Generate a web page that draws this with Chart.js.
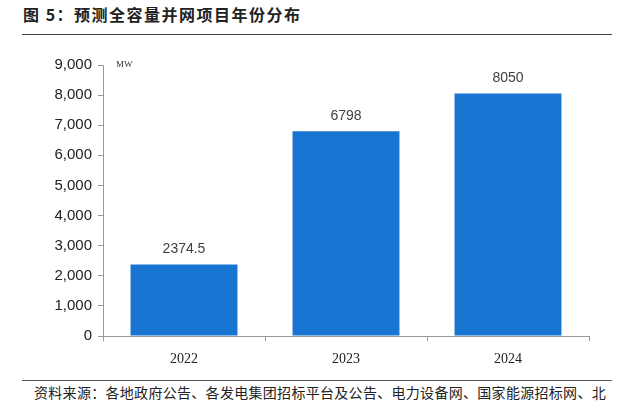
<!DOCTYPE html>
<html>
<head>
<meta charset="utf-8">
<script src="https://cdn.jsdelivr.net/npm/chart.js@4/dist/chart.umd.min.js"></script>
<style>
  body { margin: 0; background: #fff; width: 635px; height: 409px; overflow: hidden; position: relative; font-family: "Noto Sans CJK SC", sans-serif; }
  #title { position: absolute; left: 23px; top: 2px; font-size: 16px; letter-spacing: 1.5px; font-weight: bold; color: #222; white-space: nowrap; }
  #topline { position: absolute; left: 22px; top: 34px; width: 590px; height: 0; border-top: 1.5px solid #444; }
  #botline { position: absolute; left: 22px; top: 380px; width: 590px; height: 0; border-top: 1px solid #555; }
  #source { position: absolute; left: 34px; top: 382px; font-size: 14px; letter-spacing: 0.3px; color: #222; white-space: nowrap; }
  #wrap { position: absolute; left: 0; top: 40px; width: 635px; height: 340px; }
</style>
</head>
<body>
<div id="title">图 5：预测全容量并网项目年份分布</div>
<div id="topline"></div>
<div id="wrap"><canvas id="myChart"></canvas></div>
<div id="botline"></div>
<div id="source">资料来源：各地政府公告、各发电集团招标平台及公告、电力设备网、国家能源招标网、北</div>
<script>
const years = ['2022', '2023', '2024'];
const capacity = [2374.5, 6798, 8050];
const valueLabels = ['2374.5', '6798', '8050'];

// 柱顶数值
const labelPlugin = {
  id: 'labelPlugin',
  afterDatasetsDraw(chart) {
    const ctx = chart.ctx;
    const meta = chart.getDatasetMeta(0);
    ctx.save();
    ctx.font = '14px "Liberation Sans", Arial, sans-serif';
    ctx.fillStyle = '#404040';
    ctx.textAlign = 'center';
    ctx.textBaseline = 'bottom';
    meta.data.forEach(function(bar, i) {
      ctx.fillText(valueLabels[i], bar.x, bar.y - 8);
    });
    // 单位
    ctx.font = '9px "Liberation Serif", serif';
    ctx.fillStyle = '#333';
    ctx.textAlign = 'left';
    ctx.textBaseline = 'middle';
    ctx.fillText('MW', chart.chartArea.left + 13, chart.scales.y.getPixelForValue(9000));
    ctx.restore();
  }
};

var ctx = document.getElementById('myChart').getContext('2d');
var myChart = new Chart(ctx, {
  type: 'bar',
  data: {
    labels: years,
    datasets: [{
      data: capacity,
      backgroundColor: 'rgb(24, 118, 210)',
      categoryPercentage: 0.66,
      barPercentage: 1
    }]
  },
  options: {
    responsive: true,
    maintainAspectRatio: false,
    animation: false,
    layout: { padding: { top: 25, right: 46, left: 0, bottom: 0 } },
    plugins: { legend: { display: false }, tooltip: { enabled: false } },
    scales: {
      x: {
        offset: true,
        grid: { offset: true, drawOnChartArea: false, drawTicks: true, tickLength: 5, color: '#999' },
        border: { color: '#999' },
        ticks: { color: '#222', font: { family: '"Liberation Serif", serif', size: 14 }, padding: 10 },
        afterFit: function(s) { s.height = 44; }
      },
      y: {
        min: 0,
        max: 9000,
        ticks: {
          stepSize: 1000,
          color: '#222',
          font: { family: '"Liberation Sans", Arial, sans-serif', size: 15 },
          padding: 6,
          callback: function(v) { return v.toLocaleString('en-US'); }
        },
        grid: { drawOnChartArea: false, drawTicks: true, tickLength: 5, color: '#999' },
        border: { color: '#999' },
        afterFit: function(s) { s.width = 103; }
      }
    }
  },
  plugins: [labelPlugin]
});
</script>
</body>
</html>
